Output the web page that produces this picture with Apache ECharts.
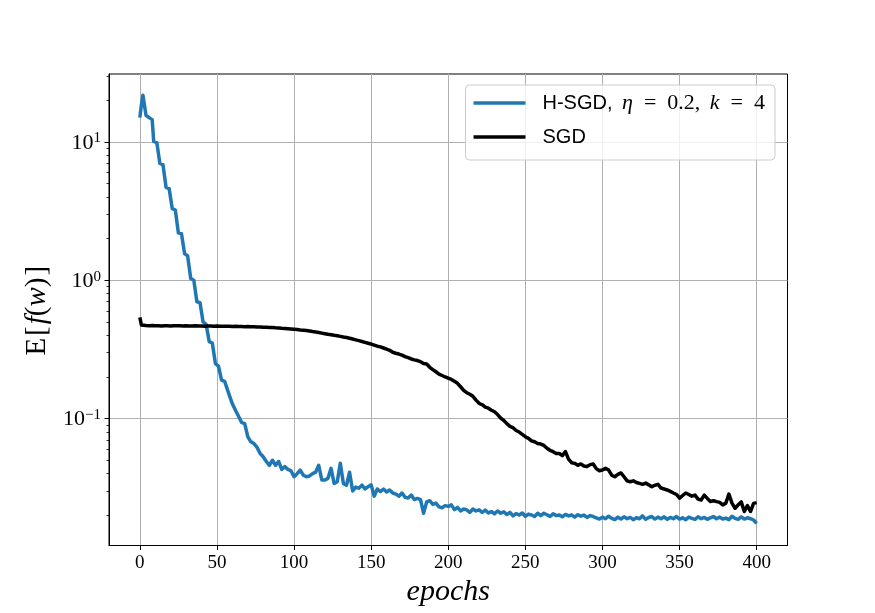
<!DOCTYPE html>
<html>
<head>
<meta charset="utf-8">
<title>H-SGD vs SGD</title>
<script src="https://cdn.jsdelivr.net/npm/echarts@6/dist/echarts.min.js"></script>
<style>
  html, body { margin: 0; padding: 0; background: #fff; }
  #main { width: 875px; height: 613px; }
</style>
</head>
<body>
<div id="main"></div>
<script>
// tick labels
var xTicks = [0, 50, 100, 150, 200, 250, 300, 350, 400];
var yTicks = [0.1, 1, 10];
var yMinorTicks = [0.02, 0.03, 0.04, 0.05, 0.06, 0.07, 0.08, 0.09,
  0.2, 0.3, 0.4, 0.5, 0.6, 0.7, 0.8, 0.9,
  2, 3, 4, 5, 6, 7, 8, 9, 20, 30];

// H-SGD, one value per epoch for epochs 0..56
var hsgdEarly = [
  15.0, 18.5, 21.8, 21.5, 15.6, 15.3, 15.0, 14.8, 14.5, 10.1,
  10.0, 9.9, 9.8, 7.0, 6.9, 6.85, 6.75, 4.7, 4.65, 4.6,
  4.5, 3.3, 3.25, 3.22, 3.18, 2.2, 2.18, 2.17, 2.15, 1.56,
  1.52, 1.5, 1.47, 1.03, 1.01, 1.0, 0.99, 0.70, 0.695, 0.69,
  0.68, 0.50, 0.49, 0.48, 0.475, 0.36, 0.355, 0.352, 0.348, 0.25,
  0.245, 0.24, 0.236, 0.19, 0.188, 0.186, 0.183
];
// H-SGD, every second epoch for epochs 58..400
var hsgdLate = [
  0.148, 0.128, 0.115, 0.104, 0.094, 0.092, 0.074, 0.068, 0.066, 0.062,
  0.056, 0.053, 0.049, 0.046, 0.050, 0.046, 0.049, 0.043, 0.045, 0.043,
  0.042, 0.038, 0.040, 0.0425, 0.039, 0.038, 0.0385, 0.040, 0.041, 0.046,
  0.036, 0.036, 0.037, 0.0437, 0.034, 0.035, 0.0475, 0.034, 0.033, 0.041,
  0.030, 0.032, 0.0314, 0.033, 0.031, 0.0322, 0.0332, 0.0275, 0.031, 0.0297,
  0.031, 0.0295, 0.0305, 0.029, 0.0285, 0.0275, 0.029, 0.027, 0.0267, 0.028,
  0.026, 0.0265, 0.026, 0.0207, 0.025, 0.0255, 0.024, 0.0245, 0.023, 0.0227,
  0.0235, 0.0232, 0.0238, 0.022, 0.0228, 0.0215, 0.0222, 0.0219, 0.021, 0.0222,
  0.0215, 0.0219, 0.021, 0.0218, 0.0208, 0.0213, 0.0205, 0.0215, 0.0207, 0.0212,
  0.0203, 0.021, 0.0198, 0.0206, 0.0201, 0.0208, 0.0197, 0.0204, 0.0201, 0.0196,
  0.0207, 0.0199, 0.0207, 0.0202, 0.0196, 0.0205, 0.0199, 0.0201, 0.0195, 0.0203,
  0.0198, 0.0201, 0.0194, 0.0202, 0.0197, 0.0201, 0.0193, 0.0199, 0.0196, 0.0192,
  0.0188, 0.0194, 0.0189, 0.0197, 0.019, 0.0186, 0.0194, 0.0188, 0.0195, 0.0189,
  0.0193, 0.0186, 0.0192, 0.0189, 0.0198, 0.0187, 0.0193, 0.0196, 0.0188, 0.0194,
  0.0189, 0.0195, 0.0187, 0.0193, 0.0189, 0.0196, 0.0188, 0.0192, 0.0186, 0.0194,
  0.019, 0.0187, 0.0195, 0.0189, 0.0193, 0.0187, 0.0192, 0.0196, 0.0189, 0.0194,
  0.0188, 0.0191, 0.0186, 0.0197, 0.019, 0.0187, 0.0195, 0.0188, 0.0192, 0.0189,
  0.0185, 0.0175
];

// SGD, epochs 0 and 1
var sgdStart = [0.54, 0.476];
// SGD, every second epoch for epochs 2..400
var sgdLoss = [
  0.472, 0.471, 0.470, 0.471, 0.469, 0.470, 0.468, 0.470, 0.469, 0.468,
  0.470, 0.469, 0.469, 0.468, 0.469, 0.467, 0.468, 0.469, 0.467, 0.468,
  0.466, 0.467, 0.468, 0.466, 0.467, 0.465, 0.466, 0.465, 0.466, 0.464,
  0.465, 0.463, 0.464, 0.462, 0.463, 0.461, 0.461, 0.460, 0.459, 0.458,
  0.457, 0.456, 0.455, 0.453, 0.452, 0.450, 0.449, 0.447, 0.445, 0.443,
  0.441, 0.438, 0.436, 0.433, 0.430, 0.426, 0.423, 0.419, 0.415, 0.411,
  0.407, 0.404, 0.400, 0.397, 0.393, 0.389, 0.386, 0.381, 0.376, 0.371,
  0.366, 0.361, 0.356, 0.351, 0.346, 0.340, 0.334, 0.330, 0.324, 0.318,
  0.312, 0.302, 0.297, 0.293, 0.288, 0.281, 0.276, 0.270, 0.266, 0.263,
  0.258, 0.250, 0.248, 0.235, 0.226, 0.218, 0.210, 0.205, 0.200, 0.196,
  0.192, 0.186, 0.180, 0.170, 0.160, 0.154, 0.150, 0.145, 0.136, 0.129,
  0.126, 0.121, 0.119, 0.115, 0.112, 0.107, 0.101, 0.097, 0.092, 0.088,
  0.086, 0.082, 0.080, 0.077, 0.074, 0.072, 0.069, 0.068, 0.066, 0.0655,
  0.064, 0.061, 0.059, 0.0577, 0.056, 0.056, 0.054, 0.0577, 0.051, 0.048,
  0.0475, 0.046, 0.047, 0.0455, 0.045, 0.0465, 0.047, 0.0435, 0.042, 0.0425,
  0.0437, 0.0425, 0.039, 0.038, 0.0395, 0.0405, 0.038, 0.0355, 0.035, 0.0355,
  0.0345, 0.034, 0.0335, 0.0342, 0.0332, 0.0322, 0.033, 0.0335, 0.0315, 0.031,
  0.0305, 0.0298, 0.029, 0.0283, 0.0266, 0.0278, 0.029, 0.0283, 0.0275, 0.028,
  0.0262, 0.0258, 0.028, 0.0265, 0.0252, 0.0255, 0.0251, 0.0248, 0.0238, 0.0245,
  0.0285, 0.0245, 0.0225, 0.0238, 0.025, 0.0213, 0.0235, 0.0213, 0.0244, 0.0247
];

// pair values with their epochs
var hsgdData = [];
hsgdEarly.forEach(function(v, i) { hsgdData.push([i, v]); });
hsgdLate.forEach(function(v, i) { hsgdData.push([58 + 2 * i, v]); });

var sgdData = [];
sgdStart.forEach(function(v, i) { sgdData.push([i, v]); });
sgdLoss.forEach(function(v, i) { sgdData.push([2 + 2 * i, v]); });

var serif = 'Liberation Serif';
var sans = 'Liberation Sans';

var myChart = echarts.init(document.getElementById('main'));

option = {
  animation: false,
  backgroundColor: '#fff',
  grid: {
    left: 109,
    right: 87.5,
    top: 74,
    bottom: 67.5,
    show: true,
    borderColor: '#000',
    borderWidth: 1,
    backgroundColor: 'transparent'
  },
  legend: {
    orient: 'vertical',
    right: 100,
    top: 85,
    padding: [6, 10, 11, 8],
    itemWidth: 52,
    itemHeight: 3.5,
    itemGap: 10,
    icon: 'rect',
    borderColor: '#cccccc',
    borderWidth: 1,
    borderRadius: 4,
    backgroundColor: 'rgba(255,255,255,0.8)',
    data: ['H-SGD', 'SGD'],
    formatter: function(name) {
      if (name === 'H-SGD') {
        return '{s|H-SGD,}{c| }{m|η}{e|=}{n|0.2,}{c| }{m|k}{e|=}{n|4}';
      }
      return '{s|' + name + '}';
    },
    textStyle: {
      padding: [0, 0, 0, 12],
      lineHeight: 24,
      rich: {
        s: { fontFamily: sans, fontSize: 20, color: '#000', lineHeight: 24 },
        c: { fontFamily: serif, fontSize: 22, color: '#000', lineHeight: 24, padding: [0, 4, 0, 0] },
        m: { fontFamily: serif, fontStyle: 'italic', fontSize: 22, color: '#000', lineHeight: 24 },
        e: { fontFamily: serif, fontSize: 22, color: '#000', lineHeight: 24, padding: [0, 11, 0, 11] },
        n: { fontFamily: serif, fontSize: 22, color: '#000', lineHeight: 24 }
      }
    }
  },
  xAxis: {
    type: 'value',
    min: -20,
    max: 420,
    name: 'epochs',
    nameLocation: 'middle',
    nameGap: 30,
    nameTextStyle: {
      fontFamily: serif,
      fontStyle: 'italic',
      fontSize: 30,
      color: '#000'
    },
    axisLine: { show: true, onZero: false, lineStyle: { color: '#000', width: 1 } },
    axisTick: {
      show: true,
      length: 4.5,
      lineStyle: { color: '#000', width: 1 },
      customValues: xTicks
    },
    axisLabel: {
      margin: 8,
      fontFamily: serif,
      fontSize: 19,
      color: '#000',
      customValues: xTicks
    },
    splitLine: { show: true, lineStyle: { color: '#b0b0b0', width: 1 } }
  },
  yAxis: [{
    type: 'log',
    min: 0.0121,
    max: 31,
    position: 'left',
    name: '{r|E}{b|[}{i|f}{r|(}{i|w}{r|)}{b|]}',
    nameLocation: 'middle',
    nameRotate: 90,
    nameGap: 55,
    nameTextStyle: {
      rich: {
        r: { fontFamily: serif, fontSize: 29, color: '#000' },
        b: { fontFamily: serif, fontSize: 29, color: '#000', padding: [0, 2, 0, 2] },
        i: { fontFamily: serif, fontStyle: 'italic', fontSize: 29, color: '#000' }
      }
    },
    axisLine: { show: true, onZero: false, lineStyle: { color: '#000', width: 1 } },
    axisTick: {
      show: true,
      length: 4.5,
      lineStyle: { color: '#000', width: 1 },
      customValues: yTicks
    },
    axisLabel: {
      margin: 8,
      customValues: yTicks,
      formatter: function(v) {
        var e = Math.round(Math.log10(v));
        return '{b|10}{s|' + (e < 0 ? '−' + (-e) : e) + '}';
      },
      rich: {
        b: { fontFamily: serif, fontSize: 22, color: '#000', lineHeight: 22, padding: [4, 0, 2, 0] },
        s: { fontFamily: serif, fontSize: 15, color: '#000', lineHeight: 15, verticalAlign: 'top' }
      }
    },
    splitLine: { show: true, lineStyle: { color: '#b0b0b0', width: 1 } }
  }, {
    // minor ticks of the log axis
    type: 'log',
    min: 0.0121,
    max: 31,
    position: 'left',
    axisLine: { show: false, onZero: false },
    axisTick: {
      show: true,
      length: 2.5,
      lineStyle: { color: '#000', width: 0.8 },
      customValues: yMinorTicks
    },
    axisLabel: { show: false },
    splitLine: { show: false }
  }],
  series: [{
    name: 'H-SGD',
    type: 'line',
    data: hsgdData,
    showSymbol: false,
    symbol: 'none',
    itemStyle: { color: '#1f77b4' },
    lineStyle: { color: '#1f77b4', width: 3.5, join: 'round' }
  }, {
    name: 'SGD',
    type: 'line',
    data: sgdData,
    showSymbol: false,
    symbol: 'none',
    itemStyle: { color: '#000' },
    lineStyle: { color: '#000', width: 3.5, join: 'round' }
  }]
};

myChart.setOption(option);
</script>
</body>
</html>
